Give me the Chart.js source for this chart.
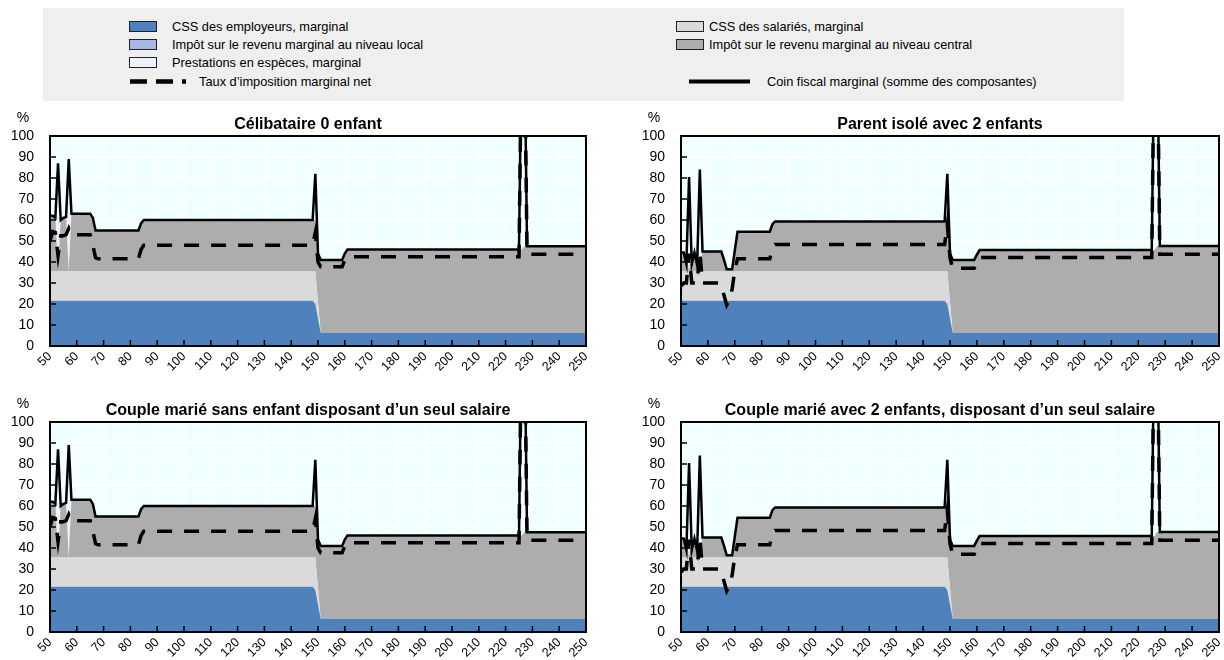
<!DOCTYPE html>
<html lang="fr">
<head>
<meta charset="utf-8">
<title>Coin fiscal marginal</title>
<script src="https://cdn.jsdelivr.net/npm/chart.js@4.4.1/dist/chart.umd.min.js"></script>
<style>
  html, body { margin: 0; padding: 0; background: #fff; }
  #page { position: relative; width: 1224px; height: 660px; overflow: hidden;
          font-family: "Liberation Sans", Arial, sans-serif; }
  #legendBox { position: absolute; left: 43px; top: 8px; width: 1081px; height: 93px; background: #efefef; }
  #legendMarks { position: absolute; left: 0; top: 0; }
  .lg { position: absolute; font-size: 12.8px; line-height: 16px; color: #000; white-space: nowrap; }
  canvas { position: absolute; }
</style>
</head>
<body>
<div id="page">
  <div id="legendBox"></div>
  <svg id="legendMarks" width="1224" height="110">
    <rect x="129.5" y="21.5" width="27" height="10" fill="#4f81bd" stroke="#222" stroke-width="1"/>
    <rect x="129.5" y="39.5" width="27" height="10" fill="#a7b9e3" stroke="#222" stroke-width="1"/>
    <rect x="129.5" y="57.5" width="27" height="10" fill="#eef2fa" stroke="#222" stroke-width="1"/>
    <line x1="130" y1="81.5" x2="186" y2="81.5" stroke="#000" stroke-width="4.5" stroke-dasharray="17 9"/>
    <rect x="676.5" y="21.5" width="27" height="10" fill="#dadada" stroke="#222" stroke-width="1"/>
    <rect x="676.5" y="39.5" width="27" height="10" fill="#adadad" stroke="#222" stroke-width="1"/>
    <line x1="689" y1="81.5" x2="750" y2="81.5" stroke="#000" stroke-width="4"/>
  </svg>
  <div class="lg" style="left:172px; top:18.5px">CSS des employeurs, marginal</div>
  <div class="lg" style="left:172px; top:36.5px">Impôt sur le revenu marginal au niveau local</div>
  <div class="lg" style="left:172px; top:54.5px">Prestations en espèces, marginal</div>
  <div class="lg" style="left:199px; top:73.5px">Taux d’imposition marginal net</div>
  <div class="lg" style="left:709px; top:18.5px">CSS des salariés, marginal</div>
  <div class="lg" style="left:709px; top:36.5px">Impôt sur le revenu marginal au niveau central</div>
  <div class="lg" style="left:767px; top:73.5px">Coin fiscal marginal (somme des composantes)</div>

  <canvas id="c1" width="600" height="276" style="left:0px; top:100px"></canvas>
  <canvas id="c2" width="612" height="276" style="left:612px; top:100px"></canvas>
  <canvas id="c3" width="600" height="276" style="left:0px; top:386px"></canvas>
  <canvas id="c4" width="612" height="276" style="left:612px; top:386px"></canvas>
</div>

<script>
// ---- Célibataire 0 enfant (revenu brut en % du salaire moyen) ----
const xCelib       = [50, 51, 52, 53, 54, 55, 56, 57, 58, 65, 66, 67, 68, 83, 84, 85, 148, 149, 150, 151, 159, 160, 161, 225, 226, 227, 228, 250];
const empCelib     = [21.5, 21.5, 21.5, 21.5, 21.5, 21.5, 21.5, 21.5, 21.5, 21.5, 21.5, 21.5, 21.5, 21.5, 21.5, 21.5, 21.5, 20, 13, 6.3, 6.3, 6.3, 6.3, 6.3, 6.3, 6.3, 6.3, 6.3];
const salCelib     = [14, 14, 14, 14, 14, 14, 14, 14, 14, 14, 14, 14, 14, 14, 14, 14, 14, 15.5, 8, 0, 0, 0, 0, 0, 0, 0, 0, 0];
const centralCelib = [26, 26.5, 26.5, 0, 25.5, 25.5, 26, 0, 27.5, 27.5, 25.5, 19.5, 19.5, 19.5, 23, 24.5, 24.5, 24.5, 23, 34.7, 34.7, 37.7, 39.7, 39.7, 39.7, 41.2, 41.2, 41.2];
const localCelib   = [0, 0, 0, 0, 0, 0, 0, 0, 0, 0, 0, 0, 0, 0, 0, 0, 0, 0, 0, 0, 0, 0, 0, 0, 0, 0, 0, 0];
const prestCelib   = [0, 0, 0, 26, 0, 0, 0, 27, 0, 0, 0, 0, 0, 0, 0, 0, 0, 0, 0, 0, 0, 0, 0, 0, 0, 0, 0, 0];
const coinCelib    = [62, 62, 61, 87, 60, 61, 61.5, 89, 63, 63, 61, 55, 55, 55, 58.5, 60, 60, 82, 44, 41, 41, 44, 46, 46, 150, 150, 47.5, 47.5];
const netCelib     = [50, 54.5, 54, 43, 52.5, 52.5, 53, 56, 53, 53, 48, 42, 41.5, 41.5, 46, 48, 48, 54, 40, 37.7, 37.7, 41, 42.5, 42.5, 150, 150, 43.7, 43.7];

// ---- Parent isolé avec 2 enfants ----
const xParent       = [50, 51, 52, 53, 54, 55, 56, 57, 58, 64, 65, 66, 67, 68, 69, 70, 71, 83, 84, 85, 148, 149, 150, 151, 159, 160, 161, 225, 226, 227, 228, 250];
const empParent     = [21.5, 21.5, 21.5, 21.5, 21.5, 21.5, 21.5, 21.5, 21.5, 21.5, 21.5, 21.5, 21.5, 21.5, 21.5, 21.5, 21.5, 21.5, 21.5, 21.5, 21.5, 20, 13, 6.3, 6.3, 6.3, 6.3, 6.3, 6.3, 6.3, 6.3, 6.3];
const salParent     = [14, 14, 14, 14, 14, 14, 14, 14, 14, 14, 14, 14, 14, 14, 14, 14, 14, 14, 14, 14, 14, 15.5, 8, 0, 0, 0, 0, 0, 0, 0, 0, 0];
const centralParent = [8, 9, 9, 0, 9, 9, 9, 0, 9.5, 9.5, 9.5, 5.5, 1, 1, 1, 10, 18.9, 18.9, 22.5, 23.8, 23.8, 23.8, 23, 34.7, 34.7, 37.2, 39.4, 39.4, 39.4, 41.3, 41.3, 41.3];
const localParent   = [0, 0, 0, 0, 0, 0, 0, 0, 0, 0, 0, 0, 0, 0, 0, 0, 0, 0, 0, 0, 0, 0, 0, 0, 0, 0, 0, 0, 0, 0, 0, 0];
const prestParent   = [0, 0, 0, 9, 0, 0, 0, 9.5, 0, 0, 0, 0, 0, 0, 0, 0, 0, 0, 0, 0, 0, 0, 0, 0, 0, 0, 0, 0, 0, 0, 0, 0];
const coinParent    = [44.5, 44.5, 39, 80.5, 39, 44.5, 38.5, 84, 45, 45, 45, 41, 36.5, 36.5, 36.5, 45.5, 54.4, 54.4, 58, 59.3, 59.3, 82, 44, 41, 41, 43.5, 45.7, 45.7, 150, 150, 47.6, 47.6];
const netParent     = [28.5, 30, 30, 44, 30, 30, 30, 45, 30, 30, 29, 24, 19.5, 22, 27, 36, 41.5, 41.5, 46.5, 48.3, 48.3, 58, 42, 37, 37, 40, 42.2, 42.2, 150, 150, 43.7, 43.7];

// ---- Couple marié sans enfant disposant d'un seul salaire ----
const xCouple0       = [50, 51, 52, 53, 54, 55, 56, 57, 58, 65, 66, 67, 68, 83, 84, 85, 148, 149, 150, 151, 159, 160, 161, 225, 226, 227, 228, 250];
const empCouple0     = [21.5, 21.5, 21.5, 21.5, 21.5, 21.5, 21.5, 21.5, 21.5, 21.5, 21.5, 21.5, 21.5, 21.5, 21.5, 21.5, 21.5, 20, 13, 6.3, 6.3, 6.3, 6.3, 6.3, 6.3, 6.3, 6.3, 6.3];
const salCouple0     = [14, 14, 14, 14, 14, 14, 14, 14, 14, 14, 14, 14, 14, 14, 14, 14, 14, 15.5, 8, 0, 0, 0, 0, 0, 0, 0, 0, 0];
const centralCouple0 = [26, 26.5, 26.5, 0, 25.5, 25.5, 26, 0, 27.5, 27.5, 25.5, 19.5, 19.5, 19.5, 23, 24.5, 24.5, 24.5, 23, 34.7, 34.7, 37.7, 39.7, 39.7, 39.7, 41.2, 41.2, 41.2];
const localCouple0   = [0, 0, 0, 0, 0, 0, 0, 0, 0, 0, 0, 0, 0, 0, 0, 0, 0, 0, 0, 0, 0, 0, 0, 0, 0, 0, 0, 0];
const prestCouple0   = [0, 0, 0, 26, 0, 0, 0, 27, 0, 0, 0, 0, 0, 0, 0, 0, 0, 0, 0, 0, 0, 0, 0, 0, 0, 0, 0, 0];
const coinCouple0    = [62, 62, 61, 87, 60, 61, 61.5, 89, 63, 63, 61, 55, 55, 55, 58.5, 60, 60, 82, 44, 41, 41, 44, 46, 46, 150, 150, 47.5, 47.5];
const netCouple0     = [50, 54.5, 54, 43, 52.5, 52.5, 53, 56, 53, 53, 48, 42, 41.5, 41.5, 46, 48, 48, 54, 40, 37.7, 37.7, 41, 42.5, 42.5, 150, 150, 43.7, 43.7];

// ---- Couple marié avec 2 enfants, disposant d'un seul salaire ----
const xCouple2       = [50, 51, 52, 53, 54, 55, 56, 57, 58, 64, 65, 66, 67, 68, 69, 70, 71, 83, 84, 85, 148, 149, 150, 151, 159, 160, 161, 225, 226, 227, 228, 250];
const empCouple2     = [21.5, 21.5, 21.5, 21.5, 21.5, 21.5, 21.5, 21.5, 21.5, 21.5, 21.5, 21.5, 21.5, 21.5, 21.5, 21.5, 21.5, 21.5, 21.5, 21.5, 21.5, 20, 13, 6.3, 6.3, 6.3, 6.3, 6.3, 6.3, 6.3, 6.3, 6.3];
const salCouple2     = [14, 14, 14, 14, 14, 14, 14, 14, 14, 14, 14, 14, 14, 14, 14, 14, 14, 14, 14, 14, 14, 15.5, 8, 0, 0, 0, 0, 0, 0, 0, 0, 0];
const centralCouple2 = [8, 9, 9, 0, 9, 9, 9, 0, 9.5, 9.5, 9.5, 5.5, 1, 1, 1, 10, 18.9, 18.9, 22.5, 23.8, 23.8, 23.8, 23, 34.7, 34.7, 37.2, 39.4, 39.4, 39.4, 41.3, 41.3, 41.3];
const localCouple2   = [0, 0, 0, 0, 0, 0, 0, 0, 0, 0, 0, 0, 0, 0, 0, 0, 0, 0, 0, 0, 0, 0, 0, 0, 0, 0, 0, 0, 0, 0, 0, 0];
const prestCouple2   = [0, 0, 0, 9, 0, 0, 0, 9.5, 0, 0, 0, 0, 0, 0, 0, 0, 0, 0, 0, 0, 0, 0, 0, 0, 0, 0, 0, 0, 0, 0, 0, 0];
const coinCouple2    = [44.5, 44.5, 39, 80.5, 39, 44.5, 38.5, 84, 45, 45, 45, 41, 36.5, 36.5, 36.5, 45.5, 54.4, 54.4, 58, 59.3, 59.3, 82, 44, 41, 41, 43.5, 45.7, 45.7, 150, 150, 47.6, 47.6];
const netCouple2     = [28.5, 30, 30, 44, 30, 30, 30, 45, 30, 30, 29, 24, 19.5, 22, 27, 36, 41.5, 41.5, 46.5, 48.3, 48.3, 58, 42, 37, 37, 40, 42.2, 42.2, 150, 150, 43.7, 43.7];

const FONT = '"Liberation Sans", Arial, sans-serif';
Chart.defaults.font.family = FONT;
Chart.defaults.color = '#000';

const COLORS = {
  emp: '#4f81bd', local: '#a7b9e3', prest: '#eef2fa', sal: '#dadada', central: '#adadad',
  plotBg: '#f0ffff', grid: '#ffffff'
};

function pts(xs, ys) { return xs.map((x, i) => ({ x: x, y: ys[i] })); }

// Plot background, inward tick marks, frame, panel title and "%" unit
const framePlugin = {
  id: 'frame',
  beforeDraw(chart) {
    const { ctx, chartArea: a } = chart;
    ctx.save();
    ctx.fillStyle = COLORS.plotBg;
    ctx.fillRect(a.left, a.top, a.right - a.left, a.bottom - a.top);
    ctx.restore();
  },
  afterDatasetsDraw(chart, args, o) {
    const { ctx, chartArea: a, scales } = chart;
    ctx.save();
    ctx.strokeStyle = '#000';
    ctx.lineWidth = 1.5;
    ctx.beginPath();
    scales.y.ticks.forEach(t => {
      const p = scales.y.getPixelForValue(t.value);
      ctx.moveTo(a.left, p); ctx.lineTo(a.left + 6, p);
    });
    scales.x.ticks.forEach(t => {
      const p = scales.x.getPixelForValue(t.value);
      ctx.moveTo(p, a.bottom); ctx.lineTo(p, a.bottom - 6);
    });
    ctx.stroke();
    ctx.lineWidth = 2;
    ctx.strokeRect(a.left, a.top, a.right - a.left, a.bottom - a.top);

    ctx.fillStyle = '#000';
    ctx.textAlign = 'center';
    ctx.textBaseline = 'alphabetic';
    ctx.font = 'bold 16px ' + FONT;
    ctx.fillText(o.title, (a.left + a.right) / 2 - 10, a.top - 7);
    ctx.font = '14px ' + FONT;
    ctx.fillText('%', a.left - 27, a.top - 14);
    ctx.restore();
  }
};

function makePanel(id, title, side, xs, emp, sal, central, local, prest, coin, net) {
  const area = (label, ys, color, fill) => ({
    label, data: pts(xs, ys), stack: 'composantes', fill,
    backgroundColor: color, borderWidth: 0, pointRadius: 0, tension: 0
  });
  const datasets = [
    { label: 'Coin fiscal marginal (somme des composantes)', data: pts(xs, coin), stack: 'coin',
      fill: false, borderColor: '#000', borderWidth: 2.5, pointRadius: 0, tension: 0, borderJoinStyle: 'miter' },
    { label: 'Taux d’imposition marginal net', data: pts(xs, net), stack: 'net',
      fill: false, borderColor: '#000', borderWidth: 3.5, borderDash: [15, 12], borderCapStyle: 'butt',
      pointRadius: 0, tension: 0 },
    area('CSS des employeurs, marginal', emp, COLORS.emp, 'origin'),
    area('CSS des salariés, marginal', sal, COLORS.sal, '-1'),
    area('Impôt sur le revenu marginal au niveau central', central, COLORS.central, '-1'),
    area('Impôt sur le revenu marginal au niveau local', local, COLORS.local, '-1'),
    area('Prestations en espèces, marginal', prest, COLORS.prest, '-1')
  ];
  const yWidth = side === 'left' ? 50 : 69;
  return new Chart(document.getElementById(id), {
    type: 'line',
    data: { datasets },
    plugins: [framePlugin],
    options: {
      responsive: false,
      animation: false,
      devicePixelRatio: 1,
      events: [],
      layout: { padding: { left: 0, right: side === 'left' ? 14 : 5, top: 36, bottom: 0 } },
      plugins: {
        legend: { display: false },
        tooltip: { enabled: false },
        title: { display: false },
        frame: { title }
      },
      scales: {
        x: {
          type: 'linear', min: 50, max: 250,
          afterFit(s) { s.height = 30; s.paddingLeft = 0; s.paddingRight = 0; },
          ticks: { stepSize: 10, autoSkip: false, minRotation: 45, maxRotation: 45,
                   font: { size: 12.5 }, color: '#000', padding: 3 },
          grid: { color: COLORS.grid, lineWidth: 1.5, drawTicks: false },
          border: { display: false }
        },
        y: {
          stacked: true, min: 0, max: 100,
          afterFit(s) { s.width = yWidth; },
          ticks: { stepSize: 10, font: { size: 14 }, color: '#000', padding: 16 },
          grid: { color: COLORS.grid, lineWidth: 1.5, drawTicks: false },
          border: { display: false }
        }
      }
    }
  });
}

makePanel('c1', 'Célibataire 0 enfant', 'left',
  xCelib, empCelib, salCelib, centralCelib, localCelib, prestCelib, coinCelib, netCelib);
makePanel('c2', 'Parent isolé avec 2 enfants', 'right',
  xParent, empParent, salParent, centralParent, localParent, prestParent, coinParent, netParent);
makePanel('c3', 'Couple marié sans enfant disposant d’un seul salaire', 'left',
  xCouple0, empCouple0, salCouple0, centralCouple0, localCouple0, prestCouple0, coinCouple0, netCouple0);
makePanel('c4', 'Couple marié avec 2 enfants, disposant d’un seul salaire', 'right',
  xCouple2, empCouple2, salCouple2, centralCouple2, localCouple2, prestCouple2, coinCouple2, netCouple2);
</script>
</body>
</html>
